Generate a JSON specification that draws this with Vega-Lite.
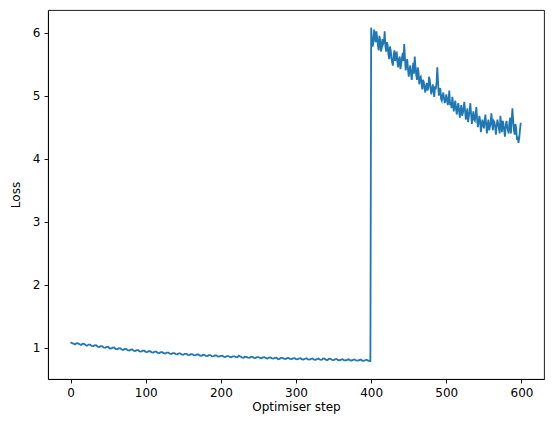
{
  "$schema": "https://vega.github.io/schema/vega-lite/v6.json",
  "width": 496,
  "height": 369,
  "autosize": {"type": "none"},
  "padding": {"left": 48, "top": 10, "right": 10, "bottom": 53},
  "config": {
    "view": {"stroke": "black", "strokeWidth": 0.9},
    "font": "DejaVu Sans",
    "axis": {
      "grid": false,
      "domainColor": "black",
      "domainWidth": 0.9,
      "tickColor": "black",
      "tickWidth": 0.9,
      "tickSize": 4,
      "labelPadding": 4,
      "labelFont": "DejaVu Sans",
      "labelFontSize": 12,
      "labelColor": "black",
      "titleFont": "DejaVu Sans",
      "titleFontSize": 12,
      "titleFontWeight": "normal",
      "titleColor": "black"
    }
  },
  "data": {
    "values": [
      {"step": 0, "loss": 1.085}, {"step": 4, "loss": 1.062}, {"step": 8, "loss": 1.070}, {"step": 12, "loss": 1.052},
      {"step": 16, "loss": 1.060}, {"step": 20, "loss": 1.040}, {"step": 24, "loss": 1.046}, {"step": 28, "loss": 1.025},
      {"step": 32, "loss": 1.034}, {"step": 36, "loss": 1.014}, {"step": 40, "loss": 1.020}, {"step": 44, "loss": 1.000},
      {"step": 48, "loss": 1.010}, {"step": 52, "loss": 0.988}, {"step": 56, "loss": 0.998}, {"step": 60, "loss": 0.978},
      {"step": 64, "loss": 0.986}, {"step": 68, "loss": 0.968}, {"step": 72, "loss": 0.978}, {"step": 76, "loss": 0.958},
      {"step": 80, "loss": 0.966}, {"step": 84, "loss": 0.950}, {"step": 88, "loss": 0.958}, {"step": 92, "loss": 0.940},
      {"step": 96, "loss": 0.950}, {"step": 100, "loss": 0.932}, {"step": 104, "loss": 0.941}, {"step": 108, "loss": 0.924},
      {"step": 112, "loss": 0.934}, {"step": 116, "loss": 0.916}, {"step": 120, "loss": 0.926}, {"step": 124, "loss": 0.910},
      {"step": 128, "loss": 0.920}, {"step": 132, "loss": 0.902}, {"step": 136, "loss": 0.912}, {"step": 140, "loss": 0.896},
      {"step": 144, "loss": 0.906}, {"step": 148, "loss": 0.889}, {"step": 152, "loss": 0.900}, {"step": 156, "loss": 0.884},
      {"step": 160, "loss": 0.893}, {"step": 164, "loss": 0.878}, {"step": 168, "loss": 0.889}, {"step": 172, "loss": 0.873},
      {"step": 176, "loss": 0.883}, {"step": 180, "loss": 0.868}, {"step": 184, "loss": 0.878}, {"step": 188, "loss": 0.863},
      {"step": 192, "loss": 0.873}, {"step": 196, "loss": 0.859}, {"step": 200, "loss": 0.868}, {"step": 204, "loss": 0.854},
      {"step": 208, "loss": 0.864}, {"step": 212, "loss": 0.850}, {"step": 216, "loss": 0.860}, {"step": 220, "loss": 0.846},
      {"step": 224, "loss": 0.872}, {"step": 228, "loss": 0.843}, {"step": 232, "loss": 0.853}, {"step": 236, "loss": 0.840},
      {"step": 240, "loss": 0.850}, {"step": 244, "loss": 0.837}, {"step": 248, "loss": 0.846}, {"step": 252, "loss": 0.834},
      {"step": 256, "loss": 0.843}, {"step": 260, "loss": 0.831}, {"step": 264, "loss": 0.840}, {"step": 268, "loss": 0.828},
      {"step": 272, "loss": 0.837}, {"step": 276, "loss": 0.815}, {"step": 280, "loss": 0.834}, {"step": 284, "loss": 0.822},
      {"step": 288, "loss": 0.831}, {"step": 292, "loss": 0.819}, {"step": 296, "loss": 0.828}, {"step": 300, "loss": 0.817},
      {"step": 304, "loss": 0.825}, {"step": 308, "loss": 0.813}, {"step": 312, "loss": 0.822}, {"step": 316, "loss": 0.811},
      {"step": 320, "loss": 0.819}, {"step": 324, "loss": 0.808}, {"step": 328, "loss": 0.817}, {"step": 332, "loss": 0.806},
      {"step": 336, "loss": 0.826}, {"step": 340, "loss": 0.803}, {"step": 344, "loss": 0.824}, {"step": 348, "loss": 0.802},
      {"step": 352, "loss": 0.811}, {"step": 356, "loss": 0.800}, {"step": 360, "loss": 0.808}, {"step": 364, "loss": 0.797},
      {"step": 368, "loss": 0.805}, {"step": 372, "loss": 0.796}, {"step": 376, "loss": 0.803}, {"step": 380, "loss": 0.794},
      {"step": 384, "loss": 0.800}, {"step": 388, "loss": 0.792}, {"step": 392, "loss": 0.798}, {"step": 396, "loss": 0.790},
      {"step": 399, "loss": 0.788},
      {"step": 2, "loss": 1.068}, {"step": 6, "loss": 1.048}, {"step": 10, "loss": 1.066}, {"step": 14, "loss": 1.042},
      {"step": 18, "loss": 1.058}, {"step": 22, "loss": 1.030}, {"step": 26, "loss": 1.045}, {"step": 30, "loss": 1.022},
      {"step": 34, "loss": 1.036}, {"step": 38, "loss": 1.008}, {"step": 42, "loss": 1.022}, {"step": 46, "loss": 0.996},
      {"step": 50, "loss": 1.012}, {"step": 54, "loss": 0.985}, {"step": 58, "loss": 1.000}, {"step": 62, "loss": 0.972},
      {"step": 66, "loss": 0.988}, {"step": 70, "loss": 0.962}, {"step": 74, "loss": 0.978}, {"step": 78, "loss": 0.952},
      {"step": 82, "loss": 0.968}, {"step": 86, "loss": 0.944}, {"step": 90, "loss": 0.958}, {"step": 94, "loss": 0.936},
      {"step": 98, "loss": 0.950}, {"step": 102, "loss": 0.928}, {"step": 106, "loss": 0.942}, {"step": 110, "loss": 0.920},
      {"step": 114, "loss": 0.934}, {"step": 118, "loss": 0.912}, {"step": 122, "loss": 0.926}, {"step": 126, "loss": 0.906},
      {"step": 130, "loss": 0.920}, {"step": 134, "loss": 0.898}, {"step": 138, "loss": 0.912}, {"step": 142, "loss": 0.892},
      {"step": 146, "loss": 0.906}, {"step": 150, "loss": 0.886}, {"step": 154, "loss": 0.900}, {"step": 158, "loss": 0.880},
      {"step": 162, "loss": 0.894}, {"step": 166, "loss": 0.875}, {"step": 170, "loss": 0.890}, {"step": 174, "loss": 0.870},
      {"step": 178, "loss": 0.884}, {"step": 182, "loss": 0.864}, {"step": 186, "loss": 0.880}, {"step": 190, "loss": 0.860},
      {"step": 194, "loss": 0.874}, {"step": 198, "loss": 0.855}, {"step": 202, "loss": 0.870}, {"step": 206, "loss": 0.850},
      {"step": 210, "loss": 0.864}, {"step": 214, "loss": 0.846}, {"step": 218, "loss": 0.860}, {"step": 222, "loss": 0.844},
      {"step": 226, "loss": 0.856}, {"step": 230, "loss": 0.838}, {"step": 234, "loss": 0.852}, {"step": 238, "loss": 0.836},
      {"step": 242, "loss": 0.850}, {"step": 246, "loss": 0.832}, {"step": 250, "loss": 0.848}, {"step": 254, "loss": 0.830},
      {"step": 258, "loss": 0.845}, {"step": 262, "loss": 0.826}, {"step": 266, "loss": 0.842}, {"step": 270, "loss": 0.824},
      {"step": 274, "loss": 0.838}, {"step": 278, "loss": 0.820}, {"step": 282, "loss": 0.836}, {"step": 286, "loss": 0.818},
      {"step": 290, "loss": 0.834}, {"step": 294, "loss": 0.816}, {"step": 298, "loss": 0.832}, {"step": 302, "loss": 0.812},
      {"step": 306, "loss": 0.830}, {"step": 310, "loss": 0.810}, {"step": 314, "loss": 0.828}, {"step": 318, "loss": 0.808},
      {"step": 322, "loss": 0.826}, {"step": 326, "loss": 0.806}, {"step": 330, "loss": 0.824}, {"step": 334, "loss": 0.804},
      {"step": 338, "loss": 0.822}, {"step": 342, "loss": 0.802}, {"step": 346, "loss": 0.820}, {"step": 350, "loss": 0.800},
      {"step": 354, "loss": 0.818}, {"step": 358, "loss": 0.798}, {"step": 362, "loss": 0.815}, {"step": 366, "loss": 0.796},
      {"step": 370, "loss": 0.812}, {"step": 374, "loss": 0.794}, {"step": 378, "loss": 0.810}, {"step": 382, "loss": 0.792},
      {"step": 386, "loss": 0.808}, {"step": 390, "loss": 0.790}, {"step": 394, "loss": 0.806}, {"step": 398, "loss": 0.786},
      {"step": 400, "loss": 6.08}, {"step": 402, "loss": 5.78}, {"step": 404, "loss": 6.05}, {"step": 406, "loss": 5.85},
      {"step": 408, "loss": 5.92}, {"step": 410, "loss": 5.72}, {"step": 412, "loss": 5.88}, {"step": 414, "loss": 5.75},
      {"step": 416, "loss": 5.82}, {"step": 418, "loss": 6.02}, {"step": 420, "loss": 5.70}, {"step": 422, "loss": 5.80},
      {"step": 424, "loss": 5.58}, {"step": 426, "loss": 5.72}, {"step": 428, "loss": 5.52}, {"step": 430, "loss": 5.65},
      {"step": 432, "loss": 5.55}, {"step": 434, "loss": 5.70}, {"step": 436, "loss": 5.45}, {"step": 438, "loss": 5.62},
      {"step": 440, "loss": 5.50}, {"step": 442, "loss": 5.68}, {"step": 444, "loss": 5.82}, {"step": 446, "loss": 5.40},
      {"step": 448, "loss": 5.58}, {"step": 450, "loss": 5.30}, {"step": 452, "loss": 5.48}, {"step": 454, "loss": 5.25},
      {"step": 456, "loss": 5.52}, {"step": 458, "loss": 5.62}, {"step": 460, "loss": 5.32}, {"step": 462, "loss": 5.45},
      {"step": 464, "loss": 5.18}, {"step": 466, "loss": 5.30}, {"step": 468, "loss": 5.10}, {"step": 470, "loss": 5.22},
      {"step": 472, "loss": 5.05}, {"step": 474, "loss": 5.20}, {"step": 476, "loss": 5.12}, {"step": 478, "loss": 5.25},
      {"step": 480, "loss": 5.02}, {"step": 482, "loss": 5.18}, {"step": 484, "loss": 4.98}, {"step": 486, "loss": 5.10},
      {"step": 488, "loss": 5.45}, {"step": 490, "loss": 5.00}, {"step": 492, "loss": 5.12}, {"step": 494, "loss": 4.92},
      {"step": 496, "loss": 5.05}, {"step": 498, "loss": 4.88}, {"step": 500, "loss": 5.02}, {"step": 502, "loss": 4.85},
      {"step": 504, "loss": 5.08}, {"step": 506, "loss": 4.90}, {"step": 508, "loss": 4.98}, {"step": 510, "loss": 4.75},
      {"step": 512, "loss": 4.92}, {"step": 514, "loss": 4.70}, {"step": 516, "loss": 4.88}, {"step": 518, "loss": 4.65},
      {"step": 520, "loss": 4.85}, {"step": 522, "loss": 4.72}, {"step": 524, "loss": 4.90}, {"step": 526, "loss": 4.62},
      {"step": 528, "loss": 4.80}, {"step": 530, "loss": 4.68}, {"step": 532, "loss": 4.88}, {"step": 534, "loss": 4.55},
      {"step": 536, "loss": 4.75}, {"step": 538, "loss": 4.60}, {"step": 540, "loss": 4.82}, {"step": 542, "loss": 4.50},
      {"step": 544, "loss": 4.68}, {"step": 546, "loss": 4.42}, {"step": 548, "loss": 4.62}, {"step": 550, "loss": 4.48},
      {"step": 552, "loss": 4.70}, {"step": 554, "loss": 4.40}, {"step": 556, "loss": 4.62}, {"step": 558, "loss": 4.50},
      {"step": 560, "loss": 4.72}, {"step": 562, "loss": 4.45}, {"step": 564, "loss": 4.58}, {"step": 566, "loss": 4.38},
      {"step": 568, "loss": 4.62}, {"step": 570, "loss": 4.48}, {"step": 572, "loss": 4.68}, {"step": 574, "loss": 4.42},
      {"step": 576, "loss": 4.55}, {"step": 578, "loss": 4.35}, {"step": 580, "loss": 4.60}, {"step": 582, "loss": 4.45},
      {"step": 584, "loss": 4.58}, {"step": 586, "loss": 4.40}, {"step": 588, "loss": 4.80}, {"step": 590, "loss": 4.45},
      {"step": 592, "loss": 4.55}, {"step": 594, "loss": 4.30}, {"step": 596, "loss": 4.25}, {"step": 598, "loss": 4.45},
      {"step": 599, "loss": 4.57},
      {"step": 401, "loss": 5.90}, {"step": 403, "loss": 5.85}, {"step": 405, "loss": 5.95}, {"step": 407, "loss": 6.02},
      {"step": 409, "loss": 5.80}, {"step": 411, "loss": 5.95}, {"step": 413, "loss": 5.70}, {"step": 415, "loss": 5.90},
      {"step": 417, "loss": 5.85}, {"step": 419, "loss": 5.78}, {"step": 421, "loss": 5.85}, {"step": 423, "loss": 5.65},
      {"step": 425, "loss": 5.78}, {"step": 427, "loss": 5.60}, {"step": 429, "loss": 5.48}, {"step": 431, "loss": 5.72},
      {"step": 433, "loss": 5.62}, {"step": 435, "loss": 5.52}, {"step": 437, "loss": 5.58}, {"step": 439, "loss": 5.42},
      {"step": 441, "loss": 5.60}, {"step": 443, "loss": 5.55}, {"step": 445, "loss": 5.60}, {"step": 447, "loss": 5.50},
      {"step": 449, "loss": 5.42}, {"step": 451, "loss": 5.40}, {"step": 453, "loss": 5.35}, {"step": 455, "loss": 5.40},
      {"step": 457, "loss": 5.35}, {"step": 459, "loss": 5.45}, {"step": 461, "loss": 5.25}, {"step": 463, "loss": 5.38},
      {"step": 465, "loss": 5.28}, {"step": 467, "loss": 5.20}, {"step": 469, "loss": 5.25}, {"step": 471, "loss": 5.12},
      {"step": 473, "loss": 5.15}, {"step": 475, "loss": 5.08}, {"step": 477, "loss": 5.30}, {"step": 479, "loss": 5.12},
      {"step": 481, "loss": 5.10}, {"step": 483, "loss": 5.08}, {"step": 485, "loss": 5.15}, {"step": 487, "loss": 5.20},
      {"step": 489, "loss": 5.22}, {"step": 491, "loss": 5.08}, {"step": 493, "loss": 4.95}, {"step": 495, "loss": 5.00},
      {"step": 497, "loss": 4.95}, {"step": 499, "loss": 4.95}, {"step": 501, "loss": 4.92}, {"step": 503, "loss": 4.95},
      {"step": 505, "loss": 4.85}, {"step": 507, "loss": 4.80}, {"step": 509, "loss": 4.88}, {"step": 511, "loss": 4.85},
      {"step": 513, "loss": 4.78}, {"step": 515, "loss": 4.82}, {"step": 517, "loss": 4.75}, {"step": 519, "loss": 4.78},
      {"step": 521, "loss": 4.68}, {"step": 523, "loss": 4.80}, {"step": 525, "loss": 4.75}, {"step": 527, "loss": 4.70},
      {"step": 529, "loss": 4.58}, {"step": 531, "loss": 4.75}, {"step": 533, "loss": 4.70}, {"step": 535, "loss": 4.65},
      {"step": 537, "loss": 4.62}, {"step": 539, "loss": 4.70}, {"step": 541, "loss": 4.62}, {"step": 543, "loss": 4.58},
      {"step": 545, "loss": 4.60}, {"step": 547, "loss": 4.52}, {"step": 549, "loss": 4.55}, {"step": 551, "loss": 4.60},
      {"step": 553, "loss": 4.55}, {"step": 555, "loss": 4.52}, {"step": 557, "loss": 4.45}, {"step": 559, "loss": 4.58},
      {"step": 561, "loss": 4.55}, {"step": 563, "loss": 4.60}, {"step": 565, "loss": 4.50}, {"step": 567, "loss": 4.52},
      {"step": 569, "loss": 4.55}, {"step": 571, "loss": 4.40}, {"step": 573, "loss": 4.55}, {"step": 575, "loss": 4.60},
      {"step": 577, "loss": 4.45}, {"step": 579, "loss": 4.50}, {"step": 581, "loss": 4.52}, {"step": 583, "loss": 4.40},
      {"step": 585, "loss": 4.65}, {"step": 587, "loss": 4.62}, {"step": 589, "loss": 4.60}, {"step": 591, "loss": 4.38},
      {"step": 593, "loss": 4.48}, {"step": 595, "loss": 4.35}, {"step": 597, "loss": 4.32}
    ]
  },
  "mark": {"type": "line", "color": "#1f77b4", "strokeWidth": 1.8},
  "encoding": {
    "x": {
      "field": "step",
      "type": "quantitative",
      "sort": "ascending",
      "scale": {"domain": [-30, 630], "nice": false, "zero": false},
      "axis": {"title": "Optimiser step", "values": [0, 100, 200, 300, 400, 500, 600], "titlePadding": 3}
    },
    "y": {
      "field": "loss",
      "type": "quantitative",
      "scale": {"domain": [0.5, 6.36], "nice": false, "zero": false},
      "axis": {"title": "Loss", "values": [1, 2, 3, 4, 5, 6], "titlePadding": 10}
    }
  }
}
